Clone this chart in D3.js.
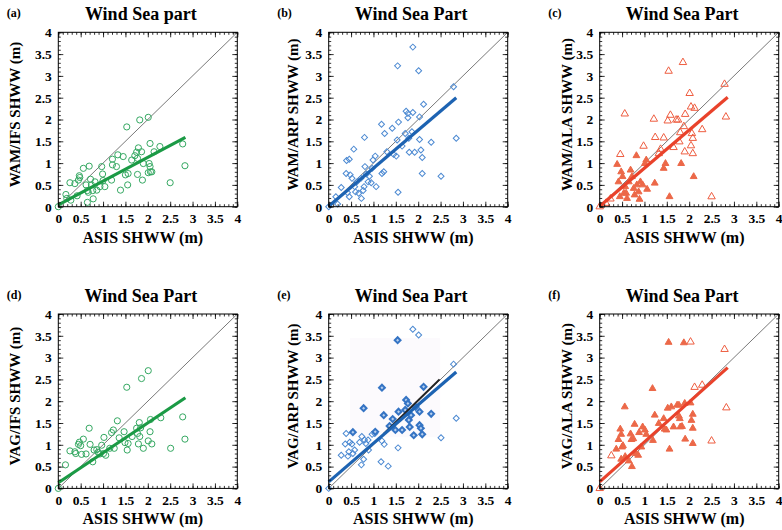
<!DOCTYPE html>
<html><head><meta charset="utf-8">
<script src="https://cdn.jsdelivr.net/npm/d3@7"></script>
<style>body{margin:0;background:#fff}svg{display:block}</style>
</head><body>
<svg id="chart" width="782" height="530"></svg>
<script>
// ---------- DATA ----------
const tickValues = [0,0.5,1,1.5,2,2.5,3,3.5,4];
const tickLabels = ["0","0.5","1","1.5","2","2.5","3","3.5","4"];
const panelLetters = ["(a)","(b)","(c)","(d)","(e)","(f)"];
const panelTitles = ["Wind Sea part","Wind Sea Part","Wind Sea Part","Wind Sea Part","Wind Sea Part","Wind Sea Part"];
const xAxisTitle = "ASIS SHWW (m)";
const yAxisTitles = ["WAM/IFS SHWW (m)","WAM/ARP SHWW (m)","WAM/ALA SHWW (m)","VAG/IFS SHWW (m)","VAG/ARP SHWW (m)","VAG/ALA SHWW (m)"];

// (a) WAM/IFS - open circles
const ptsA = [[0,0],[0.17,0.28],[0.19,0.19],[0.26,0.55],[0.28,0.15],[0.37,0.53],[0.42,0.25],[0.45,0.61],[0.47,0.71],[0.48,0.67],
[0.56,0.88],[0.62,0.50],[0.65,0.37],[0.65,0.10],[0.67,0.33],[0.69,0.93],[0.72,0.63],[0.74,0.50],[0.77,0.37],[0.78,0.18],
[0.82,0.57],[0.86,0.38],[0.93,0.46],[0.97,0.92],[1.0,0.60],[1.04,0.46],[0.99,0.75],[1.19,0.61],[1.21,0.96],[1.21,1.09],
[1.3,0.92],[1.33,1.19],[1.39,0.38],[1.45,1.15],[1.5,0.73],[1.53,1.83],[1.55,0.50],[1.56,0.76],[1.64,1.07],[1.71,1.17],
[1.75,1.25],[1.77,1.11],[1.79,1.35],[1.77,0.74],[1.82,1.99],[1.86,1.26],[1.88,0.61],[1.9,0.99],[2.01,2.05],[2.01,0.78],
[2.03,0.99],[2.05,0.92],[2.05,1.45],[2.06,0.80],[2.09,0.80],[2.14,1.26],[2.27,1.38],[2.5,0.55],[2.78,1.44],[2.83,0.94]];

// (b) WAM/ARP - open diamonds
const ptsB = [[0,0],[0.16,0.23],[0.2,0.06],[0.28,0.44],[0.39,0.76],[0.40,1.06],[0.42,0.32],[0.46,1.09],[0.46,0.23],[0.48,0.73],
[0.52,0.65],[0.56,1.32],[0.58,0.46],[0.60,0.34],[0.63,0.57],[0.67,0.31],[0.72,0.65],[0.73,0.19],[0.77,0.37],[0.79,0.46],
[0.80,1.59],[0.81,0.92],[0.84,0.75],[0.88,0.57],[0.91,0.70],[0.95,0.55],[0.97,0.88],[0.99,1.07],[1.04,1.16],[1.06,0.46],
[1.18,1.89],[1.19,0.76],[1.23,0.80],[1.25,1.68],[1.30,1.26],[1.42,1.80],[1.45,1.20],[1.51,1.16],[1.53,1.53],[1.54,3.23],
[1.55,0.33],[1.56,1.94],[1.64,1.39],[1.71,1.68],[1.73,2.19],[1.77,2.04],[1.77,2.14],[1.79,1.57],[1.80,1.25],[1.86,1.72],
[1.88,2.16],[1.88,3.66],[1.92,1.25],[2.01,3.12],[2.03,2.06],[2.03,1.54],[2.06,1.30],[2.09,1.13],[2.09,0.76],[2.12,2.35],
[2.29,1.48],[2.51,0.70],[2.79,2.75],[2.85,1.57]];

// (c) WAM/ALA - open and filled triangles
const ptsCOpen = [[0,0],[0.14,0.08],[0.24,0.18],[0.46,1.2],[0.56,2.13],[0.98,1.39],[1.21,2.01],[1.24,1.59],[1.32,1.22],[1.36,1.32],
[1.43,1.58],[1.52,1.97],[1.54,3.11],[1.58,2.10],[1.65,1.36],[1.71,1.99],[1.75,1.99],[1.78,1.49],[1.80,1.70],[1.86,3.31],
[1.88,1.84],[1.90,1.26],[1.91,2.12],[2.01,2.60],[2.04,2.29],[2.04,1.40],[2.06,1.68],[2.08,1.57],[2.08,1.22],[2.12,2.26],
[2.29,1.77],[2.50,0.23],[2.79,2.81],[2.82,2.06]];
const ptsCFilled = [[0.39,0.97],[0.42,0.57],[0.45,0.23],[0.48,0.80],[0.51,0.69],[0.54,0.31],[0.57,0.46],[0.59,0.31],[0.61,0.19],[0.65,0.57],
[0.69,0.84],[0.72,0.69],[0.76,0.42],[0.78,0.27],[0.82,1.17],[0.83,0.50],[0.87,0.34],[0.89,0.17],[0.91,0.57],[0.96,0.50],
[1.01,0.99],[1.04,1.07],[1.06,0.40],[1.23,0.54],[1.47,0.99],[1.43,0.88],[1.56,0.23],[1.82,0.99],[2.10,0.69]];

// (d) VAG/IFS - open circles
const ptsD = [[0,0],[0.16,0.54],[0.26,0.86],[0.37,0.84],[0.39,0.80],[0.45,1.01],[0.47,1.06],[0.50,0.98],[0.52,0.78],[0.56,1.13],
[0.62,0.79],[0.69,1.38],[0.71,1.01],[0.77,0.61],[0.80,0.88],[0.86,0.89],[0.89,0.83],[0.93,0.79],[0.97,0.99],[1.01,0.80],
[1.02,1.17],[1.06,0.76],[1.15,0.92],[1.19,1.28],[1.23,1.34],[1.25,0.92],[1.32,1.55],[1.36,1.16],[1.47,1.30],[1.49,1.05],
[1.53,2.32],[1.54,0.88],[1.56,1.03],[1.65,1.19],[1.75,1.38],[1.77,1.26],[1.79,1.02],[1.81,1.51],[1.82,1.19],[1.84,1.39],
[1.86,2.52],[1.90,0.92],[2.01,2.70],[2.01,1.09],[2.05,1.30],[2.06,1.58],[2.09,1.02],[2.29,1.62],[2.51,0.92],[2.78,1.64],[2.83,1.13]];

// (e) VAG/ARP - open diamonds and bold diamonds
const ptsEOpen = [[0,0],[0.28,0.76],[0.37,1.02],[0.39,1.26],[0.43,0.74],[0.45,0.84],[0.47,1.06],[0.52,1.02],[0.54,0.80],[0.58,0.88],
[0.69,1.06],[0.73,0.54],[0.74,1.19],[0.78,0.67],[0.80,1.11],[0.83,1.03],[0.88,1.11],[0.89,0.88],[0.97,1.24],[1.03,1.26],
[1.17,0.61],[1.19,1.09],[1.24,1.01],[1.33,0.51],[1.55,0.93],[1.88,3.65],[2.01,3.52],[2.51,1.16],[2.79,2.85],[2.85,1.61]];
const ptsEBold = [[0.54,1.29],[0.78,1.84],[1.04,1.30],[1.19,2.31],[1.23,1.68],[1.36,1.43],[1.43,1.59],[1.49,1.34],[1.54,3.40],[1.56,1.76],
[1.64,1.34],[1.71,1.80],[1.73,2.03],[1.77,1.95],[1.79,1.57],[1.81,1.41],[1.84,1.68],[1.90,1.22],[1.94,1.87],[2.03,1.76],
[2.03,1.45],[2.06,1.38],[2.09,1.24],[2.12,2.33],[2.29,1.71]];
const eBlackSegment = [1.25, 2.5];

// (f) VAG/ALA - open and filled triangles
const ptsFOpen = [[0,0],[0.26,0.75],[2.03,3.36],[2.12,2.32],[2.29,2.37],[2.50,1.09],[2.79,3.19],[2.83,1.85]];
const ptsFFilled = [[0.37,0.90],[0.42,1.12],[0.46,1.36],[0.48,0.67],[0.48,1.24],[0.50,0.95],[0.52,0.98],[0.57,0.73],[0.56,1.87],[0.65,0.63],
[0.69,1.25],[0.71,1.12],[0.72,0.50],[0.75,1.14],[0.78,1.47],[0.81,0.80],[0.86,0.76],[0.88,1.28],[0.93,0.95],[0.96,1.41],
[1.01,1.34],[1.04,1.24],[1.18,2.29],[1.19,1.10],[1.23,1.68],[1.32,1.49],[1.43,1.60],[1.45,1.36],[1.49,1.34],[1.52,1.84],
[1.54,3.35],[1.56,0.90],[1.60,1.87],[1.65,1.41],[1.73,1.91],[1.77,1.66],[1.77,1.91],[1.79,1.60],[1.80,1.41],[1.84,1.42],
[1.88,3.34],[1.90,1.95],[1.91,1.13],[2.03,1.96],[2.05,1.56],[2.08,1.38],[2.08,1.70],[2.08,1.03]];

// regression lines: [x0, y0, x1, y1]
const fitA = [0, 0.04, 2.84, 1.59];
const fitB = [0, 0.01, 2.85, 2.50];
const fitC = [0, 0.01, 2.86, 2.51];
const fitD = [0, 0.13, 2.84, 2.08];
const fitE = [0, 0.15, 2.85, 2.67];
const fitF = [0, 0.15, 2.86, 2.77];

// ---------- LAYOUT ----------
const colLeft = [58.3, 328.7, 599.7];
const rowTop = [32.3, 314];
const pw = 179, ph = 174.4;
const yLabelOffset = [38, 31, 28];
const FONT = "'Liberation Serif','Times New Roman',serif";

const GREEN = {line:"#1b9a45", stroke:"#35a862"};
const BLUE = {line:"#1d63b2", stroke:"#4d8ad2"};
const RED = {line:"#e9422b", stroke:"#ee5d40", fill:"#ec6848"};

const panels = [
  {groups:[{pts:ptsA, shape:"circle", style:"open"}], color:GREEN, fit:fitA},
  {groups:[{pts:ptsB, shape:"diamond", style:"open"}], color:BLUE, fit:fitB},
  {groups:[{pts:ptsCOpen, shape:"triangle", style:"open"},{pts:ptsCFilled, shape:"triangle", style:"filled"}], color:RED, fit:fitC},
  {groups:[{pts:ptsD, shape:"circle", style:"open"}], color:GREEN, fit:fitD},
  {groups:[{pts:ptsEOpen, shape:"diamond", style:"open"},{pts:ptsEBold, shape:"diamond", style:"bold"}], color:BLUE, fit:fitE, shade:ptsEBold, blackSeg:eBlackSegment},
  {groups:[{pts:ptsFOpen, shape:"triangle", style:"open"},{pts:ptsFFilled, shape:"triangle", style:"filled"}], color:RED, fit:fitF}
];

const svg = d3.select("#chart");
const minorVals = d3.range(0, 40.5, 1).map(v => v/10);

panels.forEach((p, i) => {
  const col = i % 3, row = Math.floor(i / 3);
  const left = colLeft[col], top = rowTop[row];
  const x = d3.scaleLinear().domain([0,4]).range([0,pw]);
  const y = d3.scaleLinear().domain([0,4]).range([ph,0]);
  const g = svg.append("g").attr("transform", `translate(${left},${top})`);

  // very faint shaded patch (panel e)
  if (p.shade) {
    const xe = d3.extent(p.shade, d => d[0]), ye = d3.extent(p.shade, d => d[1]);
    g.append("rect").attr("x", x(xe[0]) - 3).attr("y", y(ye[1]) - 2)
      .attr("width", x(xe[1]) - x(xe[0]) + 12).attr("height", y(ye[0]) - y(ye[1]) + 4)
      .attr("fill", "#fcfafd");
  }

  // 1:1 line
  g.append("line").attr("x1", x(0)).attr("y1", y(0)).attr("x2", x(4)).attr("y2", y(4))
    .attr("stroke", "#6a6a6a").attr("stroke-width", 0.9);

  // markers
  const gp = g.append("g");
  p.groups.forEach(gr => {
    let sym;
    if (gr.shape === "circle") sym = d3.symbol(d3.symbolCircle, 30);
    else if (gr.shape === "diamond") sym = d3.symbol(d3.symbolSquare, gr.style === "bold" ? 17 : 18);
    else sym = d3.symbol(d3.symbolTriangle, gr.style === "filled" ? 20 : 24);
    const rot = gr.shape === "diamond" ? " rotate(45)" : "";
    gp.selectAll(null).data(gr.pts).enter().append("path")
      .attr("d", sym)
      .attr("transform", d => `translate(${x(d[0])},${y(d[1])})${rot}`)
      .attr("fill", gr.style === "filled" ? p.color.fill : (gr.style === "bold" ? "#b7cfee" : "none"))
      .attr("stroke", gr.style === "filled" ? p.color.fill : (gr.style === "bold" ? "#3574c4" : p.color.stroke))
      .attr("stroke-width", gr.style === "bold" ? 2 : 1);
  });

  // black overlay segment (panel e)
  if (p.blackSeg) {
    g.append("line").attr("x1", x(p.blackSeg[0]) - 1).attr("y1", y(p.blackSeg[0]))
      .attr("x2", x(p.blackSeg[1]) - 1).attr("y2", y(p.blackSeg[1]))
      .attr("stroke", "#222").attr("stroke-width", 2);
  }

  // regression line
  g.append("line").attr("x1", x(p.fit[0])).attr("y1", y(p.fit[1]))
    .attr("x2", x(p.fit[2])).attr("y2", y(p.fit[3]))
    .attr("stroke", p.color.line).attr("stroke-width", 3.2).attr("stroke-linecap", "butt");

  // axes: minor ticks on all sides, major ticks with labels
  const fmt = (d) => tickLabels[tickValues.indexOf(d)];
  const addAxis = (axis, tr) => {
    const a = g.append("g").attr("transform", tr).call(axis);
    a.select(".domain").remove();
    a.selectAll("line").attr("stroke", "#000").attr("stroke-width", 0.8);
    a.selectAll("text").attr("font-family", FONT).attr("font-weight", "bold")
      .attr("font-size", 13.5).attr("fill", "#000");
    return a;
  };
  addAxis(d3.axisBottom(x).tickValues(minorVals).tickSize(-2.5).tickFormat(""), `translate(0,${ph})`);
  addAxis(d3.axisTop(x).tickValues(minorVals).tickSize(-2.5).tickFormat(""), `translate(0,0)`);
  addAxis(d3.axisLeft(y).tickValues(minorVals).tickSize(-2.5).tickFormat(""), `translate(0,0)`);
  addAxis(d3.axisRight(y).tickValues(minorVals).tickSize(-2.5).tickFormat(""), `translate(${pw},0)`);
  addAxis(d3.axisBottom(x).tickValues(tickValues).tickSize(-5).tickPadding(7).tickFormat(fmt), `translate(0,${ph})`);
  addAxis(d3.axisLeft(y).tickValues(tickValues).tickSize(-5).tickPadding(6.5).tickFormat(fmt), `translate(0,0)`);
  addAxis(d3.axisTop(x).tickValues(tickValues).tickSize(-5).tickFormat(""), `translate(0,0)`);
  addAxis(d3.axisRight(y).tickValues(tickValues).tickSize(-5).tickFormat(""), `translate(${pw},0)`);

  // frame
  g.append("rect").attr("x", 0).attr("y", 0).attr("width", pw).attr("height", ph)
    .attr("fill", "none").attr("stroke", "#000").attr("stroke-width", 1);

  // titles and labels
  g.append("text").attr("x", pw/2 - 7).attr("y", -12.5).attr("text-anchor", "middle")
    .attr("font-family", FONT).attr("font-weight", "bold").attr("font-size", 18).text(panelTitles[i]);
  g.append("text").attr("x", -51.5).attr("y", -15).attr("text-anchor", "start")
    .attr("font-family", FONT).attr("font-weight", "bold").attr("font-size", 12).text(panelLetters[i]);
  g.append("text").attr("x", pw/2 - 5).attr("y", ph + 36).attr("text-anchor", "middle")
    .attr("font-family", FONT).attr("font-weight", "bold").attr("font-size", 16).text(xAxisTitle);
  g.append("text").attr("transform", `translate(${-yLabelOffset[col]},${ph/2 - 5}) rotate(-90)`)
    .attr("text-anchor", "middle")
    .attr("font-family", FONT).attr("font-weight", "bold").attr("font-size", 15).text(yAxisTitles[i]);
});
</script>
</body></html>
